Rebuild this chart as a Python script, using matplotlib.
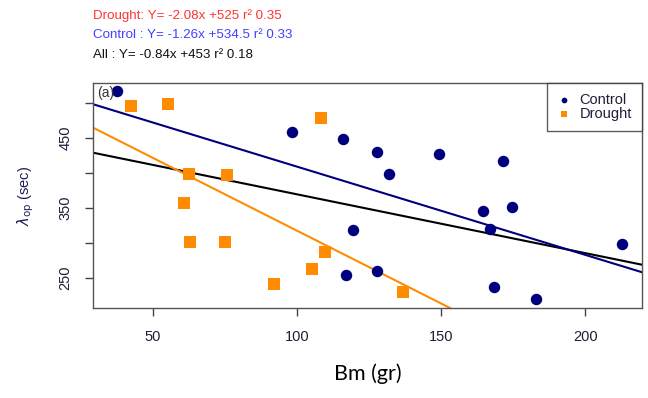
import matplotlib
matplotlib.use("Agg")
import matplotlib.pyplot as plt
import numpy as np

plt.rcParams['font.family'] = ['Liberation Sans', 'DejaVu Sans']
plt.rcParams['mathtext.fontset'] = 'dejavusans'

# Biomass (gr) and lambda_op (sec) per treatment
control_bm = [37.5, 98.1, 115.9, 127.7, 149.2, 171.4, 131.9, 164.3, 174.6,
              166.9, 119.5, 212.7, 116.8, 127.7, 168.2, 182.8]
control_lop = [517.1, 457.7, 448.6, 430.0, 426.7, 416.7, 397.7, 345.7, 351.4,
               319.6, 317.7, 298.1, 254.3, 259.6, 236.3, 219.1]

drought_bm = [42.5, 55.2, 108.2, 62.5, 75.8, 60.7, 62.7, 74.9, 92.0, 105.0,
              109.6, 136.7]
drought_lop = [495.7, 498.1, 477.7, 397.7, 396.7, 356.3, 301.4, 300.6, 240.6,
               262.4, 287.1, 229.1]

# Fitted regressions: (slope, intercept, r²)
fit_drought = (-2.08, 525, 0.35)
fit_control = (-1.26, 534.5, 0.33)
fit_all = (-0.84, 453, 0.18)

x_ticks = [50, 100, 150, 200]
y_ticks = [250, 300, 350, 400, 450, 500]
y_labels = ['250', '', '350', '', '450', '']

NAVY = '#00007f'
ORANGE = '#ff8c00'
TXT = '#1e1e3a'

fig = plt.figure(figsize=(6.48, 3.98), dpi=100)
ax = fig.add_axes([0.1435, 0.2261, 0.8472, 0.5654])
ax.set_xlim(29.2, 219.6)
ax.set_ylim(206.7, 528)

xs = np.array(ax.get_xlim())
for (m, b, _), col in [(fit_all, 'black'), (fit_drought, ORANGE), (fit_control, NAVY)]:
    ax.plot(xs, m * xs + b, color=col, lw=1.5, zorder=2)

ax.scatter(control_bm, control_lop, s=68, marker='o', color=NAVY,
           linewidths=0, zorder=3, label='Control')
ax.scatter(drought_bm, drought_lop, s=70, marker='s', color=ORANGE,
           linewidths=0, zorder=3, label='Drought')

for side in ['top', 'right', 'left', 'bottom']:
    ax.spines[side].set_color('#555555')
    ax.spines[side].set_linewidth(1.0)

ax.set_xticks(x_ticks)
ax.set_xticklabels([str(v) for v in x_ticks])
ax.set_yticks(y_ticks)
ax.set_yticklabels(y_labels, rotation=90, va='center')
ax.tick_params(axis='both', direction='out', length=6, width=1,
               color='#444444', labelsize=10.5, labelcolor=TXT)
ax.tick_params(axis='x', pad=10)
ax.tick_params(axis='y', pad=9)

ax.text(0.008, 0.985, '(a)', transform=ax.transAxes, ha='left', va='top',
        fontsize=10, color='#333333')

leg = ax.legend(loc='upper right', frameon=True, fancybox=False,
                markerscale=0.5, handletextpad=0.55, borderpad=0.7,
                labelspacing=0.0, handlelength=1.0, borderaxespad=0,
                fontsize=10.5)
leg.get_frame().set_edgecolor('#333333')
leg.get_frame().set_linewidth(1.0)
for t in leg.get_texts():
    t.set_color(TXT)

ax.set_ylabel(r'$\lambda_{\mathrm{op}}$ (sec)', fontsize=10.5, color='#1e1e5a',
              labelpad=16)
ax.set_xlabel('Bm (gr)', fontsize=15.5, family=['Lato', 'DejaVu Sans'],
              color='black', labelpad=14)

def eq(name, fit):
    m, b, r2 = fit
    return f"{name} Y= {m:g}x +{b:g} r² {r2:g}"

fig.text(93 / 648, 1 - 16 / 398, eq('Drought:', fit_drought), color='#ff3333',
         fontsize=9.6, ha='left', va='center')
fig.text(93 / 648, 1 - 35 / 398, eq('Control :', fit_control), color='#4040ff',
         fontsize=9.6, ha='left', va='center')
fig.text(93 / 648, 1 - 55 / 398, eq('All :', fit_all), color='#111111',
         fontsize=9.6, ha='left', va='center')

fig.savefig('out.png', dpi=100)
